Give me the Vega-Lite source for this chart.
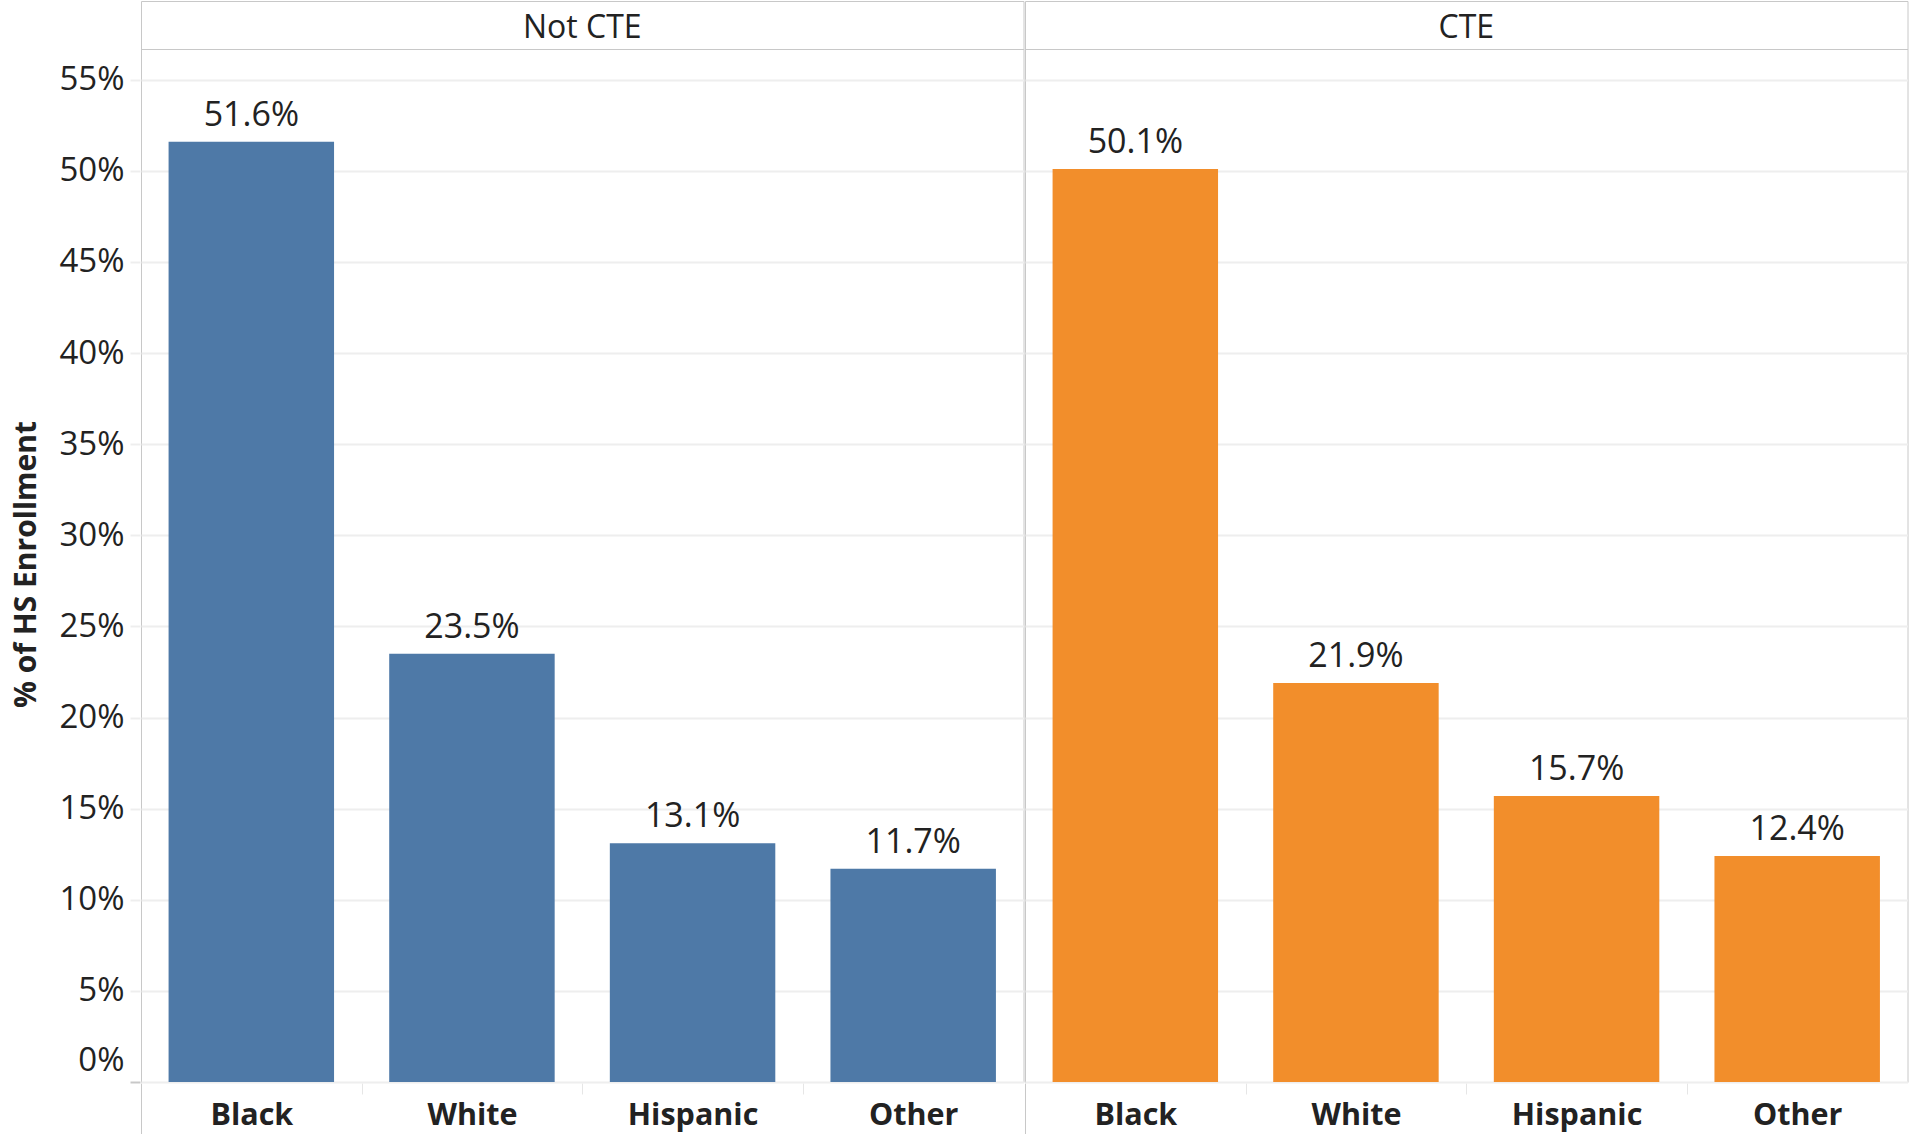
{
  "$schema": "https://vega.github.io/schema/vega-lite/v6.json",
  "background": "white",
  "padding": {"left": 11, "top": 0, "right": 7, "bottom": 0},
  "data": {"values": [
    {"group": "Not CTE", "race": "Black", "pct": 0.516},
    {"group": "Not CTE", "race": "White", "pct": 0.235},
    {"group": "Not CTE", "race": "Hispanic", "pct": 0.131},
    {"group": "Not CTE", "race": "Other", "pct": 0.117},
    {"group": "CTE", "race": "Black", "pct": 0.501},
    {"group": "CTE", "race": "White", "pct": 0.219},
    {"group": "CTE", "race": "Hispanic", "pct": 0.157},
    {"group": "CTE", "race": "Other", "pct": 0.124}
  ]},
  "facet": {
    "column": {
      "field": "group", "type": "nominal", "sort": ["Not CTE", "CTE"],
      "header": {"title": null, "labelFontSize": 32, "labelFont": "Open Sans", "labelColor": "#222222", "labelPadding": -45}
    }
  },
  "spacing": 0,
  "spec": {
    "width": 882.5,
    "height": 1081,
    "encoding": {
      "x": {
        "field": "race", "type": "nominal", "sort": ["Black", "White", "Hispanic", "Other"],
        "scale": {"paddingInner": 0.25, "paddingOuter": 0.125},
        "axis": {
          "title": null, "labelFont": "Open Sans", "labelFontWeight": "bold", "labelFontSize": 30.5,
          "labelColor": "#222222", "labelAngle": 0, "domain": false,
          "labelPadding": {"condition": {"test": "datum.value === 'Black'", "value": -36}, "value": 6},
          "bandPosition": 0, "tickOffset": -27.58, "labelOffset": 27.58,
          "tickSize": {"condition": {"test": "datum.value === 'Black'", "value": 53}, "value": 11},
          "tickColor": {"condition": {"test": "datum.value === 'Black'", "value": "#c8c8c8"}, "value": "#e6e6e6"},
          "tickWidth": 1
        }
      },
      "y": {
        "field": "pct", "type": "quantitative",
        "scale": {"domain": [0, 0.5932], "nice": false},
        "axis": {
          "title": "% of HS Enrollment", "titleFont": "Open Sans", "titleFontWeight": "bold", "titleFontSize": 30,
          "titleColor": "#222222", "titlePadding": 17, "titleY": 563,
          "values": [0, 0.05, 0.1, 0.15, 0.2, 0.25, 0.3, 0.35, 0.4, 0.45, 0.5, 0.55, 0.567],
          "format": ".0%", "labelExpr": "datum.value > 0.56 ? '' : datum.label",
          "labelFont": "Open Sans", "labelFontSize": 33, "labelColor": "#222222", "labelPadding": 6,
          "tickSize": 10, "tickWidth": 2, "domain": false,
          "tickColor": {"condition": {"test": "datum.value === 0", "value": "#c8c8c8"}, "value": "#eeeeee"},
          "tickOpacity": {"condition": {"test": "datum.value > 0.56", "value": 0}, "value": 1},
          "grid": true,
          "gridColor": {"condition": {"test": "datum.value > 0.56", "value": "#c8c8c8"}, "value": "#eeeeee"},
          "gridWidth": {"condition": {"test": "datum.value > 0.56", "value": 1}, "value": 2},
          "labelBaseline": {"condition": {"test": "datum.value === 0", "value": "bottom"}, "value": "middle"},
          "labelOffset": {"condition": {"test": "datum.value === 0", "value": -5}, "value": 0}
        }
      }
    },
    "layer": [
      {
        "mark": {"type": "bar"},
        "encoding": {
          "color": {"field": "group", "type": "nominal", "scale": {"domain": ["Not CTE", "CTE"], "range": ["#4e79a7", "#f28e2b"]}, "legend": null}
        }
      },
      {
        "mark": {"type": "text", "baseline": "alphabetic", "dy": -16, "font": "Open Sans", "fontSize": 34, "color": "#222222"},
        "encoding": {"text": {"field": "pct", "type": "quantitative", "format": ".1%"}}
      }
    ]
  },
  "config": {
    "view": {"stroke": "#c8c8c8", "strokeWidth": 1}
  }
}
